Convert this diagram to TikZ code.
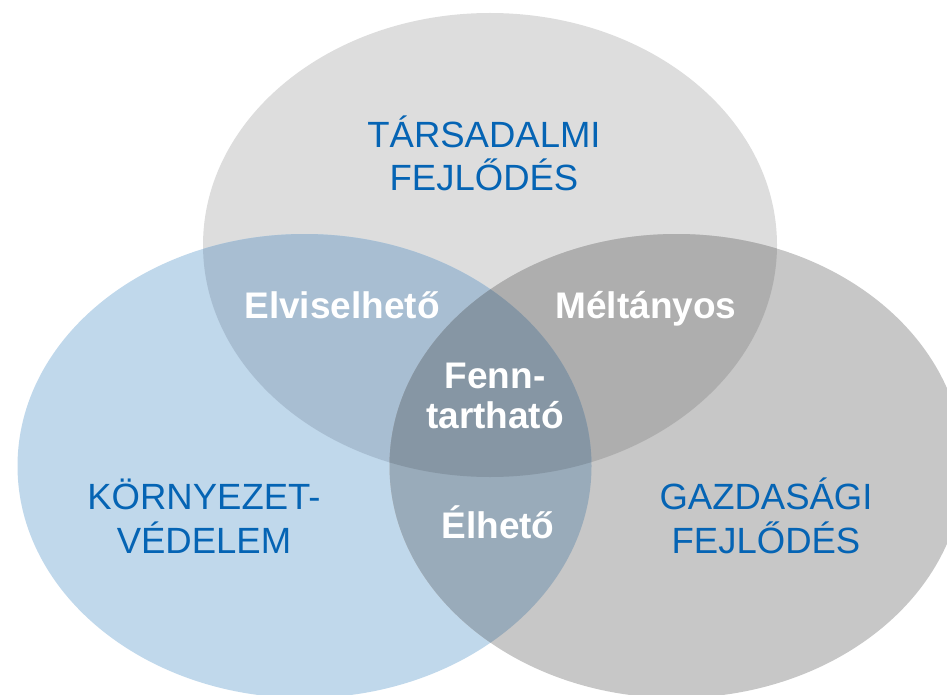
\documentclass[tikz,border=0pt]{standalone}
\usepackage{fontspec}
\setmainfont{Liberation Sans}
\usepackage{tikz}
\usetikzlibrary{positioning}

\definecolor{topgray}{HTML}{DDDDDD}
\definecolor{leftblue}{HTML}{C0D8EB}
\definecolor{rightgray}{HTML}{C7C7C7}
\definecolor{tlmix}{HTML}{A8BED2}
\definecolor{trmix}{HTML}{AEAEAE}
\definecolor{lrmix}{HTML}{99ABBA}
\definecolor{allmix}{HTML}{8696A4}
\definecolor{labelblue}{HTML}{0564B4}

\tikzset{
  circlabel/.style={text=labelblue, align=center, inner sep=0pt,
    font=\fontsize{36.5}{43.5}\selectfont},
  mixlabel/.style={text=white, align=center, inner sep=0pt,
    font=\fontsize{37}{40}\selectfont\bfseries}
}

\begin{document}
\begin{tikzpicture}[x=1pt,y=-1pt]
    % Venn diagram, three ellipses
    \def\rx{287pt}
    \def\ry{232pt}
    \def\topellipse{(490,245) ellipse [x radius=\rx, y radius=\ry]}
    \def\leftellipse{(304.5,466) ellipse [x radius=\rx, y radius=\ry]}
    \def\rightellipse{(676.5,466) ellipse [x radius=\rx, y radius=\ry]}

    \useasboundingbox (0,0) rectangle (947,695);

    % Draw the single ellipses
    \fill[topgray] \topellipse;
    \fill[leftblue] \leftellipse;
    \fill[rightgray] \rightellipse;

    % Overlaps of two
    \begin{scope}
        \clip \topellipse;
        \fill[tlmix] \leftellipse;
        \fill[trmix] \rightellipse;
    \end{scope}
    \begin{scope}
        \clip \leftellipse;
        \fill[lrmix] \rightellipse;
    \end{scope}

    % Overlap of all three
    \begin{scope}
        \clip \topellipse;
        \clip \leftellipse;
        \fill[allmix] \rightellipse;
    \end{scope}

    % Labels (base = last line)
    \node[circlabel, anchor=base] (social) at (484,191) {TÁRSADALMI\\FEJLŐDÉS};
    \node[circlabel, anchor=base] (environ) at (204,553) {KÖRNYEZET-\\VÉDELEM};
    \node[circlabel, anchor=base] (economic) at (766,553) {GAZDASÁGI\\FEJLŐDÉS};

    \node[mixlabel, anchor=base] (bearable) at (342,318) {Elviselhető};
    \node[mixlabel, anchor=base] (equitable) at (646,318) {Méltányos};
    \node[mixlabel, anchor=base] (viable) at (498,538) {Élhető};
    \node[mixlabel, anchor=base] (sustain) at (495,428) {Fenn-\\tartható};
\end{tikzpicture}
\end{document}
